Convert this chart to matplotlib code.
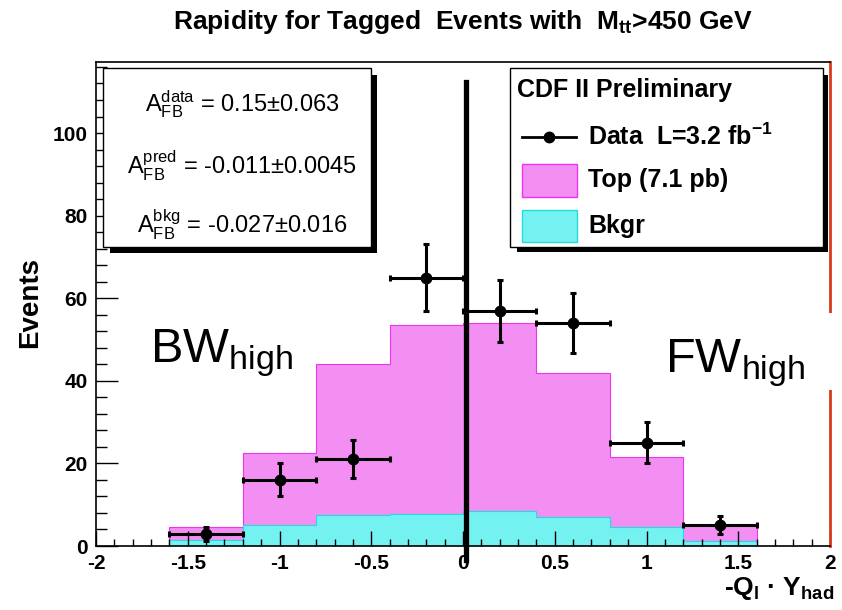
import numpy as np
import matplotlib
matplotlib.use("Agg")
import matplotlib.pyplot as plt
from matplotlib.patches import Rectangle
from matplotlib.lines import Line2D
from matplotlib.ticker import MultipleLocator, FuncFormatter

plt.rcParams["font.family"] = ["Liberation Sans", "DejaVu Sans"]
plt.rcParams["mathtext.fontset"] = "custom"
plt.rcParams["mathtext.rm"] = "Liberation Sans"
plt.rcParams["mathtext.it"] = "Liberation Sans:italic"
plt.rcParams["mathtext.bf"] = "Liberation Sans:bold"
plt.rcParams["axes.unicode_minus"] = False

# histogram binning (-Q_l * Y_had)
bin_edges = [-2.0, -1.6, -1.2, -0.8, -0.4, 0.0, 0.4, 0.8, 1.2, 1.6, 2.0]
bkg_counts = [0, 1.5, 5.0, 7.6, 7.8, 8.4, 7.0, 4.5, 1.2, 0]
top_counts = [0, 3.1, 17.5, 36.4, 45.7, 45.6, 35.0, 17.0, 3.8, 0]

# data points
data_x = [-1.4, -1.0, -0.6, -0.2, 0.2, 0.6, 1.0, 1.4]
data_counts = [3, 16, 21, 65, 57, 54, 25, 5]
data_errors = [1.7, 4.0, 4.6, 8.1, 7.5, 7.3, 5.0, 2.2]
bin_half_width = 0.2

stats_lines = [
    r"$\mathrm{A}_{\mathrm{FB}}^{\mathrm{data}}$ = 0.15±0.063",
    r"$\mathrm{A}_{\mathrm{FB}}^{\mathrm{pred}}$ = -0.011±0.0045",
    r"$\mathrm{A}_{\mathrm{FB}}^{\mathrm{bkg}}$ = -0.027±0.016",
]

cut_x = 0.016
pink = "#f38ef3"
cyan = "#74f2f2"

W, H = 842, 610
fig = plt.figure(figsize=(W / 100, H / 100), dpi=100)


def fx(x):
    return x / W


def fy(y):
    return 1 - y / H


ax = fig.add_axes([fx(96), fy(546), (830 - 96) / W, (546 - 62) / H])

total = np.add(bkg_counts, top_counts)
ax.stairs(total, bin_edges, fill=True, color=pink, zorder=1)
ax.stairs(total, bin_edges, color="#ee33ee", lw=0.8, zorder=1.1)
ax.stairs(bkg_counts, bin_edges, fill=True, color=cyan, zorder=1.2)
ax.stairs(bkg_counts, bin_edges, color="#22dddd", lw=0.8, zorder=1.3)

ax.errorbar(data_x, data_counts, xerr=bin_half_width, yerr=data_errors,
            fmt="o", color="black", ms=7.5, elinewidth=2.2, capsize=2.5,
            capthick=2.2, zorder=3)

ax.plot([cut_x, cut_x], [-3.4, 112.3], color="black", lw=3.8,
        clip_on=False, zorder=4)

ax.set_xlim(-2, 2)
ax.set_ylim(0, 117.2)
ax.xaxis.set_major_locator(MultipleLocator(0.5))
ax.xaxis.set_minor_locator(MultipleLocator(0.1))
ax.yaxis.set_major_locator(MultipleLocator(20))
ax.yaxis.set_minor_locator(MultipleLocator(4))
ax.xaxis.set_major_formatter(FuncFormatter(lambda v, p: f"{v:g}"))
ax.tick_params(axis="x", which="major", direction="in", length=10.5, width=1,
               pad=6, labelsize=15)
ax.tick_params(axis="x", which="minor", direction="in", length=5, width=1)
ax.tick_params(axis="y", which="major", direction="in", length=16, width=1,
               pad=6, labelsize=15)
ax.tick_params(axis="y", which="minor", direction="in", length=8, width=1)
for lab in ax.get_xticklabels() + ax.get_yticklabels():
    lab.set_fontweight("bold")
ax.spines["right"].set_color("#d83a1a")
ax.spines["right"].set_linewidth(2)
for s in ["left", "top", "bottom"]:
    ax.spines[s].set_linewidth(1.2)

# title and axis titles
fig.text(fx(463), fy(22), r"Rapidity for Tagged  Events with  $\mathbf{M_{tt}}$>450 GeV",
         ha="center", va="center", fontsize=19, fontweight="bold")
fig.text(fx(30), fy(303), "Events", rotation=90, ha="center", va="center",
         fontsize=20, fontweight="bold")
fig.text(fx(834), fy(588), r"-Q$_{\mathbf{l}}$ · Y$_{\mathbf{had}}$", ha="right",
         va="center", fontsize=19, fontweight="bold")

# stats box
fig.add_artist(Rectangle((fx(110), fy(253)), (377 - 110) / W, (253 - 75) / H,
                         transform=fig.transFigure, facecolor="black", zorder=5))
fig.add_artist(Rectangle((fx(103), fy(247)), (371 - 103) / W, (247 - 68) / H,
                         transform=fig.transFigure, facecolor="white",
                         edgecolor="black", lw=1, zorder=6))
for y, s in zip([104, 166, 225], stats_lines):
    fig.text(fx(242), fy(y), s, ha="center", va="center", fontsize=17, zorder=7)

# legend box
fig.add_artist(Rectangle((fx(517), fy(252)), (828 - 517) / W, (252 - 75) / H,
                         transform=fig.transFigure, facecolor="black", zorder=5))
fig.add_artist(Rectangle((fx(510), fy(247)), (823 - 510) / W, (247 - 68) / H,
                         transform=fig.transFigure, facecolor="white",
                         edgecolor="black", lw=1, zorder=6))
fig.text(fx(517), fy(90), "CDF II Preliminary", ha="left", va="center",
         fontsize=18, fontweight="bold", zorder=7)
fig.add_artist(Line2D([fx(522), fx(576)], [fy(137), fy(137)], color="black",
                      lw=2, zorder=7, transform=fig.transFigure))
fig.add_artist(Line2D([fx(549)], [fy(137)], color="black", marker="o", ms=7.5,
                      zorder=7, transform=fig.transFigure))
fig.text(fx(588), fy(137), r"Data  L=3.2 fb$^{\mathbf{-1}}$", ha="left",
         va="center", fontsize=18, fontweight="bold", zorder=7)
fig.add_artist(Rectangle((fx(522), fy(197)), 55 / W, 33 / H,
                         transform=fig.transFigure, facecolor=pink,
                         edgecolor="#ee33ee", lw=1, zorder=7))
fig.text(fx(588), fy(180), "Top (7.1 pb)", ha="left", va="center",
         fontsize=18, fontweight="bold", zorder=7)
fig.add_artist(Rectangle((fx(522), fy(242)), 55 / W, 32 / H,
                         transform=fig.transFigure, facecolor=cyan,
                         edgecolor="#22dddd", lw=1, zorder=7))
fig.text(fx(588), fy(226), "Bkgr", ha="left", va="center",
         fontsize=18, fontweight="bold", zorder=7)

# forward / backward labels
fig.add_artist(Rectangle((fx(655), fy(390)), (840 - 655) / W, (390 - 313) / H,
                         transform=fig.transFigure, facecolor="white",
                         edgecolor="none", zorder=5))
fig.text(fx(150), fy(362), r"BW$_{\mathrm{high}}$", ha="left", va="baseline",
         fontsize=35, zorder=7)
fig.text(fx(665), fy(372), r"FW$_{\mathrm{high}}$", ha="left", va="baseline",
         fontsize=35, zorder=7)

fig.savefig("out.png", dpi=100, facecolor="white")
